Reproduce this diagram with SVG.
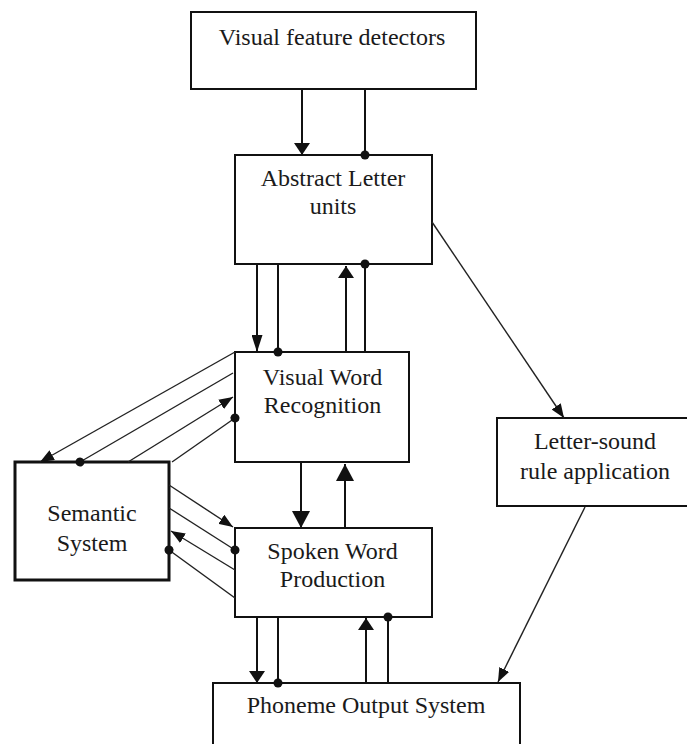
<svg xmlns="http://www.w3.org/2000/svg" width="687" height="744" viewBox="0 0 687 744">
<style>
  .box { fill: #fff; stroke: #111; stroke-width: 2; }
  .sem { fill: #fff; stroke: #111; stroke-width: 3; }
  .lbl { font-family: "Liberation Serif", "Times New Roman", serif; font-size: 24px; fill: #1a1a1a; text-anchor: middle; }
  .v { stroke: #111; stroke-width: 2; fill: none; }
  .d { stroke: #222; stroke-width: 1.4; fill: none; }
</style>
<defs>
  <marker id="aW" viewBox="0 0 12 16" refX="12" refY="8" markerWidth="12" markerHeight="16" markerUnits="userSpaceOnUse" orient="auto">
    <path d="M0,0 L12,8 L0,16 Z" fill="#111"/>
  </marker>
  <marker id="aT" viewBox="0 0 17 11" refX="17" refY="5.5" markerWidth="17" markerHeight="11" markerUnits="userSpaceOnUse" orient="auto">
    <path d="M0,0 L17,5.5 L0,11 Z" fill="#111"/>
  </marker>
  <marker id="aB" viewBox="0 0 17 18" refX="17" refY="9" markerWidth="17" markerHeight="18" markerUnits="userSpaceOnUse" orient="auto">
    <path d="M0,0 L17,9 L0,18 Z" fill="#111"/>
  </marker>
  <marker id="aS" viewBox="0 0 14 11" refX="14" refY="5.5" markerWidth="14" markerHeight="11" markerUnits="userSpaceOnUse" orient="auto">
    <path d="M0,0 L14,5.5 L0,11 Z" fill="#111"/>
  </marker>
  <marker id="dot" viewBox="-5 -5 10 10" refX="0" refY="0" markerWidth="10" markerHeight="10" markerUnits="userSpaceOnUse" orient="auto">
    <circle cx="0" cy="0" r="4.5" fill="#111"/>
  </marker>
</defs>

<g id="visual-feature-detectors">
  <rect class="box" x="191" y="12" width="285" height="77"/>
  <text class="lbl" x="332" y="45">Visual feature detectors</text>
</g>
<g id="abstract-letter-units">
  <rect class="box" x="235" y="155" width="197" height="109"/>
  <text class="lbl" x="333" y="186">Abstract Letter</text>
  <text class="lbl" x="333" y="214">units</text>
</g>
<g id="visual-word-recognition">
  <rect class="box" x="235" y="352" width="174" height="110"/>
  <text class="lbl" x="322.5" y="385">Visual Word</text>
  <text class="lbl" x="322.5" y="413">Recognition</text>
</g>
<g id="spoken-word-production">
  <rect class="box" x="235" y="528" width="197" height="89"/>
  <text class="lbl" x="332.5" y="559">Spoken Word</text>
  <text class="lbl" x="332.5" y="587">Production</text>
</g>
<g id="phoneme-output-system">
  <rect class="box" x="213" y="683" width="307" height="80"/>
  <text class="lbl" x="366" y="713">Phoneme Output System</text>
</g>
<g id="letter-sound-rule-application">
  <rect class="box" x="497" y="418" width="196" height="88"/>
  <text class="lbl" x="595" y="449">Letter-sound</text>
  <text class="lbl" x="595" y="479">rule application</text>
</g>
<g id="semantic-system">
  <rect class="sem" x="15" y="462" width="154" height="118"/>
  <text class="lbl" x="92" y="521">Semantic</text>
  <text class="lbl" x="92" y="551">System</text>
</g>

<g id="connectors">
  <line class="v" x1="302" y1="89" x2="302" y2="155" marker-end="url(#aW)"/>
  <line class="v" x1="365" y1="89" x2="365" y2="155" marker-end="url(#dot)"/>
  <line class="v" x1="257" y1="264" x2="257" y2="352" marker-end="url(#aT)"/>
  <line class="v" x1="278" y1="264" x2="278" y2="352" marker-end="url(#dot)"/>
  <line class="v" x1="346" y1="352" x2="346" y2="266" marker-end="url(#aW)"/>
  <line class="v" x1="365" y1="352" x2="365" y2="264" marker-end="url(#dot)"/>
  <line class="v" x1="301" y1="462" x2="301" y2="528" marker-end="url(#aB)"/>
  <line class="v" x1="345" y1="528" x2="345" y2="464" marker-end="url(#aB)"/>
  <line class="v" x1="257" y1="617" x2="257" y2="683" marker-end="url(#aW)"/>
  <line class="v" x1="278" y1="617" x2="278" y2="683" marker-end="url(#dot)"/>
  <line class="v" x1="366" y1="683" x2="366" y2="618" marker-end="url(#aW)"/>
  <line class="v" x1="388" y1="683" x2="388" y2="617" marker-end="url(#dot)"/>
  <line class="d" x1="432" y1="222" x2="564" y2="418" marker-end="url(#aS)"/>
  <line class="d" x1="585" y1="507" x2="498" y2="682" marker-end="url(#aS)"/>
  <line class="d" x1="235" y1="352" x2="40" y2="462" marker-end="url(#aS)"/>
  <line class="d" x1="233" y1="373" x2="80" y2="462" marker-end="url(#dot)"/>
  <line class="d" x1="128" y1="462" x2="233" y2="397" marker-end="url(#aS)"/>
  <line class="d" x1="172" y1="462" x2="235" y2="418" marker-end="url(#dot)"/>
  <line class="d" x1="169" y1="485" x2="233" y2="527" marker-end="url(#aS)"/>
  <line class="d" x1="169" y1="508" x2="235" y2="550" marker-end="url(#dot)"/>
  <line class="d" x1="235" y1="570" x2="171" y2="531" marker-end="url(#aS)"/>
  <line class="d" x1="235" y1="598" x2="169" y2="550" marker-end="url(#dot)"/>
</g>
</svg>
